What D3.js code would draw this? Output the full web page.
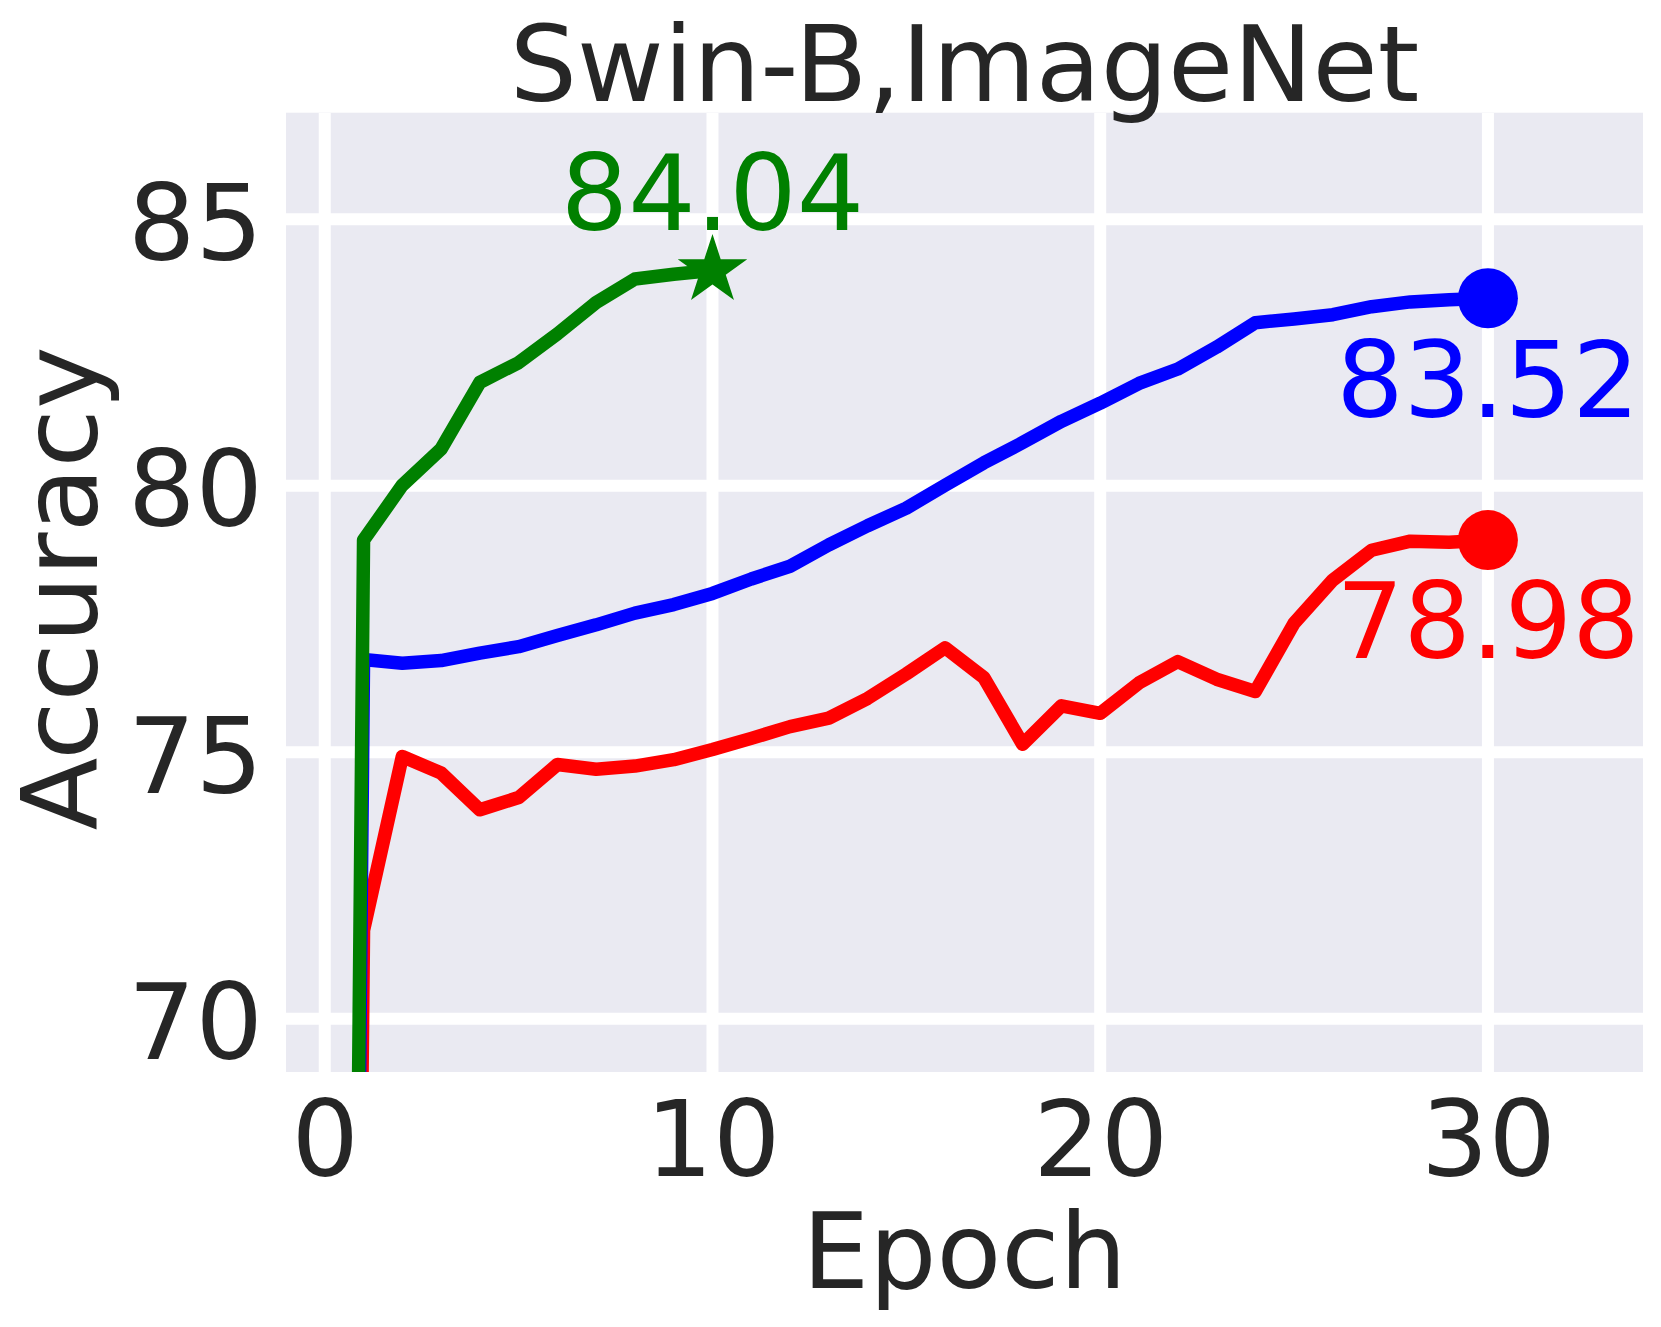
<!DOCTYPE html>
<html>
<head>
<meta charset="utf-8">
<script src="https://cdn.jsdelivr.net/npm/d3@7"></script>
<style>
  html, body { margin: 0; padding: 0; background: #ffffff; }
  svg { display: block; }
  text { font-family: "DejaVu Sans", sans-serif; }
</style>
</head>
<body>
<script>
// ---- data ----
const epochsLong = d3.range(0, 31);          // 0..30
const epochsShort = d3.range(0, 11);         // 0..10
const blueAcc = [0.1, 76.74, 76.67, 76.72, 76.86, 76.98, 77.19, 77.39, 77.61, 77.77, 77.98,
                 78.25, 78.49, 78.89, 79.25, 79.58, 80.01, 80.43, 80.81, 81.21, 81.55,
                 81.92, 82.19, 82.60, 83.06, 83.13, 83.21, 83.36, 83.45, 83.49, 83.52];
const redAcc  = [0.1, 71.66, 74.92, 74.61, 73.92, 74.15, 74.77, 74.68, 74.74, 74.86, 75.05,
                 75.26, 75.48, 75.64, 76.01, 76.47, 76.96, 76.40, 75.15, 75.87, 75.73,
                 76.30, 76.70, 76.37, 76.14, 77.42, 78.23, 78.79, 78.96, 78.94, 78.98];
const greenAcc = [0.1, 78.98, 80.01, 80.69, 81.94, 82.31, 82.85, 83.44, 83.88, 83.97, 84.04];
const finalLabels = ["83.52", "78.98", "84.04"];
const xTicks = [0, 10, 20, 30];
const yTicks = [70, 75, 80, 85];
const titleText = "Swin-B,ImageNet";
const xLabel = "Epoch";
const yLabel = "Accuracy";

// ---- layout ----
const W = 1661, H = 1327;
const pLeft = 286, pRight = 1643, pTop = 112.7, pBottom = 1072;
const FS = 106;
const textColor = "#262626";

const svg = d3.select("body").append("svg").attr("width", W).attr("height", H);

const x = d3.scaleLinear().domain([-1, 34]).range([pLeft, pRight]);
const y = d3.scaleLinear().domain([69, 87]).range([pBottom, pTop]);

svg.append("defs").append("clipPath").attr("id", "plotclip")
  .append("rect").attr("x", pLeft).attr("y", pTop).attr("width", pRight - pLeft).attr("height", pBottom - pTop);

// background
svg.append("rect").attr("x", pLeft).attr("y", pTop).attr("width", pRight - pLeft).attr("height", pBottom - pTop)
  .attr("fill", "#EAEAF2");

// grid
const grid = svg.append("g").attr("clip-path", "url(#plotclip)");
grid.selectAll("line.vx").data(xTicks).enter().append("line")
  .attr("x1", d => x(d)).attr("x2", d => x(d)).attr("y1", pTop).attr("y2", pBottom)
  .attr("stroke", "#ffffff").attr("stroke-width", 12);
grid.selectAll("line.hy").data(yTicks).enter().append("line")
  .attr("x1", pLeft).attr("x2", pRight).attr("y1", d => y(d)).attr("y2", d => y(d))
  .attr("stroke", "#ffffff").attr("stroke-width", 12);

// lines
const line = d3.line().x(d => x(d[0])).y(d => y(d[1]));
const series = [
  { name: "red",   color: "#FF0000", ep: epochsLong,  acc: redAcc },
  { name: "blue",  color: "#0000FF", ep: epochsLong,  acc: blueAcc },
  { name: "green", color: "#008000", ep: epochsShort, acc: greenAcc }
];
const lg = svg.append("g").attr("clip-path", "url(#plotclip)");
series.forEach(s => {
  lg.append("path")
    .datum(s.ep.map((e, i) => [e, s.acc[i]]))
    .attr("d", line)
    .attr("fill", "none")
    .attr("stroke", s.color)
    .attr("stroke-width", 13.5)
    .attr("stroke-linejoin", "round")
    .attr("stroke-linecap", "square");
});

// end markers
const last = a => a[a.length - 1];
svg.append("circle").attr("cx", x(30)).attr("cy", y(last(blueAcc))).attr("r", 30).attr("fill", "#0000FF");
svg.append("circle").attr("cx", x(30)).attr("cy", y(last(redAcc))).attr("r", 30).attr("fill", "#FF0000");
svg.append("path")
  .attr("d", d3.symbol().type(d3.symbolStar).size(1500)())
  .attr("transform", `translate(${x(10)},${y(last(greenAcc))})`)
  .attr("fill", "#008000");

// annotations
svg.append("text").attr("x", x(30)).attr("y", y(last(blueAcc)) + 119)
  .attr("text-anchor", "middle").attr("font-size", FS).attr("fill", "#0000FF").text(finalLabels[0]);
svg.append("text").attr("x", x(30)).attr("y", y(last(redAcc)) + 118)
  .attr("text-anchor", "middle").attr("font-size", FS).attr("fill", "#FF0000").text(finalLabels[1]);
svg.append("text").attr("x", x(10)).attr("y", y(last(greenAcc)) - 40)
  .attr("text-anchor", "middle").attr("font-size", FS).attr("fill", "#008000").text(finalLabels[2]);

// axes (no tick marks, no domain line)
const xAxis = d3.axisBottom(x).tickValues(xTicks).tickSize(0).tickPadding(0).tickFormat(d3.format("d"));
const gx = svg.append("g").attr("transform", `translate(0,${pBottom})`).call(xAxis);
gx.select(".domain").remove();
gx.selectAll("text").attr("font-size", FS).attr("fill", textColor).attr("font-family", "DejaVu Sans")
  .attr("dy", null).attr("y", 104);

const yAxis = d3.axisLeft(y).tickValues(yTicks).tickSize(0).tickPadding(0).tickFormat(d3.format("d"));
const gy = svg.append("g").attr("transform", `translate(${pLeft},0)`).call(yAxis);
gy.select(".domain").remove();
gy.selectAll("text").attr("font-size", FS).attr("fill", textColor).attr("font-family", "DejaVu Sans")
  .attr("dy", null).attr("y", 40).attr("x", -23);

// title and axis labels
svg.append("text").attr("x", (pLeft + pRight) / 2).attr("y", 100.5)
  .attr("text-anchor", "middle").attr("font-size", FS).attr("fill", textColor).text(titleText);
svg.append("text").attr("x", (pLeft + pRight) / 2).attr("y", 1288)
  .attr("text-anchor", "middle").attr("font-size", FS).attr("fill", textColor).text(xLabel);
svg.append("text").attr("transform", `translate(96.5,${(pTop + pBottom) / 2 - 4}) rotate(-90)`)
  .attr("text-anchor", "middle").attr("font-size", FS).attr("fill", textColor).text(yLabel);
</script>
</body>
</html>
